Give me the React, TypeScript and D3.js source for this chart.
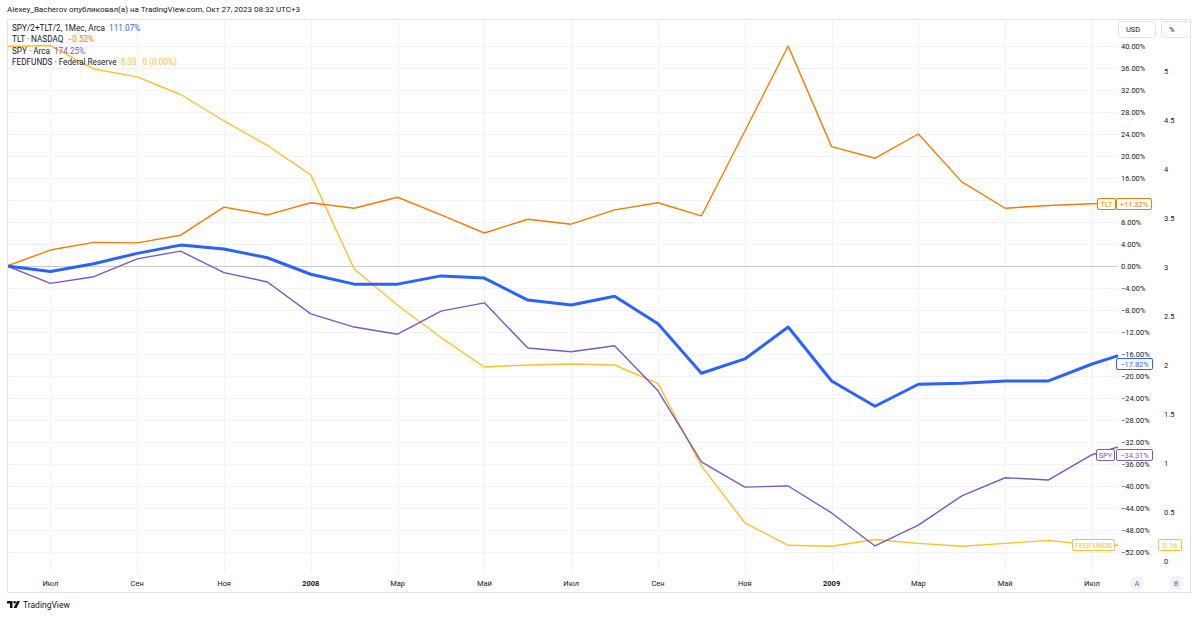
import React, { useEffect, useRef } from 'react';
import * as d3 from 'd3';

// monthly bars, Jun 2007 .. Aug 2009 (last one is cut by the price scale)
const months = [
  '2007-06', '2007-07', '2007-08', '2007-09', '2007-10', '2007-11', '2007-12',
  '2008-01', '2008-02', '2008-03', '2008-04', '2008-05', '2008-06', '2008-07',
  '2008-08', '2008-09', '2008-10', '2008-11', '2008-12', '2009-01', '2009-02',
  '2009-03', '2009-04', '2009-05', '2009-06', '2009-07', '2009-08',
];

// % change from the first bar
const basket = [
  0, -1.0, 0.4, 2.3, 3.8, 3.1, 1.5, -1.5, -3.3, -3.3, -1.8, -2.2, -6.2, -7.1,
  -5.5, -10.5, -19.5, -16.9, -11.1, -20.9, -25.5, -21.5, -21.3, -20.9, -20.9, -17.82, -15.3,
];
const tlt = [
  0, 2.9, 4.3, 4.2, 5.6, 10.7, 9.3, 11.5, 10.5, 12.5, 9.3, 6.0, 8.5, 7.6,
  10.2, 11.5, 9.1, 24.5, 40.0, 21.7, 19.6, 24.0, 15.3, 10.5, 11.0, 11.32, 11.5,
];
const spy = [
  0, -3.15, -1.95, 1.3, 2.7, -1.2, -2.9, -8.7, -11.1, -12.4, -8.2, -6.7, -14.9, -15.6,
  -14.5, -22.7, -35.6, -40.2, -40.0, -44.9, -50.9, -47.1, -41.8, -38.5, -38.9, -34.31, -32.0,
];
// effective fed funds rate, %
const fedfunds = [
  5.25, 5.26, 5.02, 4.94, 4.76, 4.49, 4.24, 3.94, 2.98, 2.61, 2.28, 1.98, 2.0, 2.01,
  2.0, 1.81, 0.97, 0.39, 0.16, 0.15, 0.22, 0.18, 0.15, 0.18, 0.21, 0.16, 0.16,
];

const pctTicks = [40, 36, 32, 28, 24, 20, 16, 12, 8, 4, 0, -4, -8, -12, -16, -20, -24, -28, -32, -36, -40, -44, -48, -52];
const rateTicks = [5, 4.5, 4, 3.5, 3, 2.5, 2, 1.5, 1, 0.5, 0];
const timeTickMonths = ['2007-07', '2007-09', '2007-11', '2008-01', '2008-03', '2008-05', '2008-07', '2008-09', '2008-11', '2009-01', '2009-03', '2009-05', '2009-07'];
const timeTickLabels = ['Июл', 'Сен', 'Ноя', '2008', 'Мар', 'Май', 'Июл', 'Сен', 'Ноя', '2009', 'Мар', 'Май', 'Июл'];

const lastIdx = 25; // Jul 2009, the last bar shown in the labels

const FONT = 'Roboto, "Noto Sans", sans-serif';
const TXT = '#131722';
const BLUE = '#2962ff';
const ORANGE = '#f57c00';
const PURPLE = '#7e57c2';
const YELLOW = '#fbc02d';

const fmtPct = (v: number, plus = false) =>
  (v < 0 ? '\u2212' : plus && v > 0 ? '+' : '') + Math.abs(v).toFixed(2) + '%';

const App: React.FC = () => {
  const svgRef = useRef<SVGSVGElement | null>(null);

  useEffect(() => {
    const svg = d3.select(svgRef.current);
    svg.selectAll('*').remove();

    const pane = { left: 7, right: 1118, top: 19, bottom: 573 };

    const x = d3.scalePoint<string>().domain(months).range([7, 7 + 43.4 * (months.length - 1)]);
    const y = d3.scaleLinear().domain([-52, 40]).range([552, 46]);
    const yRate = d3.scaleLinear().domain([0, 5]).range([561, 71]);

    svg.append('rect').attr('width', 1200).attr('height', 617).attr('fill', '#fff');

    const defs = svg.append('defs');
    defs.append('clipPath').attr('id', 'pane')
      .append('rect')
      .attr('x', pane.left).attr('y', pane.top)
      .attr('width', pane.right - pane.left).attr('height', pane.bottom - pane.top);

    // grid
    const grid = svg.append('g').attr('stroke', '#f0f3fa').attr('stroke-width', 1);
    grid.selectAll('line.h').data(pctTicks).join('line')
      .attr('x1', pane.left).attr('x2', pane.right)
      .attr('y1', (d) => Math.round(y(d)) + 0.5).attr('y2', (d) => Math.round(y(d)) + 0.5);
    grid.selectAll('line.v').data(timeTickMonths).join('line')
      .attr('y1', pane.top).attr('y2', pane.bottom)
      .attr('x1', (d) => Math.round(x(d)!) + 0.5).attr('x2', (d) => Math.round(x(d)!) + 0.5);

    // zero baseline
    svg.append('line')
      .attr('x1', pane.left).attr('x2', pane.right)
      .attr('y1', Math.round(y(0)) + 0.5).attr('y2', Math.round(y(0)) + 0.5)
      .attr('stroke', '#c8cbd3').attr('stroke-width', 1);

    const lines = svg.append('g').attr('clip-path', 'url(#pane)').attr('fill', 'none')
      .attr('stroke-linejoin', 'round');

    const pctLine = d3.line<number>().x((_, i) => x(months[i])!).y((d) => y(d));
    const rateLine = d3.line<number>().x((_, i) => x(months[i])!).y((d) => yRate(d));

    lines.append('path').datum(fedfunds).attr('d', rateLine).attr('stroke', YELLOW).attr('stroke-width', 1.4);
    lines.append('path').datum(spy).attr('d', pctLine).attr('stroke', PURPLE).attr('stroke-width', 1.4);
    lines.append('path').datum(tlt).attr('d', pctLine).attr('stroke', ORANGE).attr('stroke-width', 1.4);
    lines.append('path').datum(basket).attr('d', pctLine).attr('stroke', BLUE).attr('stroke-width', 3);

    // frame
    svg.append('rect')
      .attr('x', 7.5).attr('y', 19.5).attr('width', 1183).attr('height', 573)
      .attr('fill', 'none').attr('stroke', '#e0e3eb');

    // a tick that sits under a last-value box only shows its top part
    const tagRows = [y(tlt[lastIdx]), y(basket[lastIdx]), y(spy[lastIdx])];
    pctTicks.forEach((d, i) => {
      const hit = tagRows.find((r) => Math.abs(y(d) - r) <= 8);
      const t = svg.append('text')
        .attr('x', 1121).attr('y', y(d)).attr('dy', '0.35em')
        .attr('font-family', FONT).attr('font-size', 7.5).attr('fill', TXT)
        .text(fmtPct(d));
      if (hit !== undefined) {
        defs.append('clipPath').attr('id', `tick-${i}`)
          .append('rect').attr('x', 1110).attr('y', y(d) - 10)
          .attr('width', 60).attr('height', Math.round(hit) - 6 - (y(d) - 10));
        t.attr('clip-path', `url(#tick-${i})`);
      }
    });
    svg.append('g').selectAll('text').data(rateTicks).join('text')
      .attr('x', 1164).attr('y', (d) => yRate(d)).attr('dy', '0.35em')
      .attr('font-family', FONT).attr('font-size', 7.5).attr('fill', TXT)
      .text((d) => String(d));

    // time axis
    svg.append('g').selectAll('text').data(timeTickMonths).join('text')
      .attr('x', (d) => x(d)!).attr('y', 583).attr('dy', '0.35em')
      .attr('text-anchor', 'middle')
      .attr('font-family', FONT).attr('font-size', 7.5).attr('fill', TXT)
      .attr('font-weight', (_, i) => (timeTickLabels[i].length === 4 ? 'bold' : 'normal'))
      .text((_, i) => timeTickLabels[i]);

    // USD / % buttons
    const btn = (bx: number, w: number, label: string) => {
      svg.append('rect').attr('x', bx + 0.5).attr('y', 21.5).attr('width', w).attr('height', 16)
        .attr('rx', 3).attr('fill', '#fff').attr('stroke', '#e0e3eb');
      svg.append('text').attr('x', bx + 8).attr('y', 29.5).attr('dy', '0.35em')
        .attr('font-family', FONT).attr('font-size', 7.5).attr('fill', TXT).text(label);
    };
    btn(1118, 37, 'USD');
    btn(1161, 29, '%');

    // A / B circles
    [['A', 1137], ['B', 1176]].forEach(([t, cx]) => {
      svg.append('circle').attr('cx', cx as number).attr('cy', 583).attr('r', 7).attr('fill', '#f0f3fa');
      svg.append('text').attr('x', cx as number).attr('y', 583).attr('dy', '0.35em')
        .attr('text-anchor', 'middle').attr('font-family', FONT).attr('font-size', 7.5)
        .attr('fill', '#6a6d78').text(t as string);
    });

    // last-value labels
    const tag = (bx: number, w: number, cy: number, color: string, label: string) => {
      svg.append('rect').attr('x', bx + 0.5).attr('y', Math.round(cy) - 5.5).attr('width', w).attr('height', 11)
        .attr('rx', 1.5).attr('fill', '#fff').attr('stroke', color);
      svg.append('text').attr('x', bx + w / 2 + 0.5).attr('y', Math.round(cy)).attr('dy', '0.35em')
        .attr('text-anchor', 'middle').attr('font-family', FONT).attr('font-size', 7.5)
        .attr('fill', color).text(label);
    };
    tag(1097, 18, y(tlt[lastIdx]), ORANGE, 'TLT');
    tag(1116, 35, y(tlt[lastIdx]), ORANGE, fmtPct(tlt[lastIdx], true));
    tag(1116, 36, y(basket[lastIdx]), BLUE, fmtPct(basket[lastIdx]));
    tag(1096, 18, y(spy[lastIdx]), PURPLE, 'SPY');
    tag(1116, 36, y(spy[lastIdx]), PURPLE, fmtPct(spy[lastIdx]));
    tag(1072, 42, yRate(fedfunds[lastIdx]), YELLOW, 'FEDFUNDS');
    tag(1158, 23, yRate(fedfunds[lastIdx]), YELLOW, fedfunds[lastIdx].toFixed(2));

    // legend
    const legend = [
      { name: 'SPY/2+TLT/2, 1Мес, Arca', values: ['111.07%'], color: BLUE },
      { name: 'TLT · NASDAQ', values: ['\u22120.52%'], color: ORANGE },
      { name: 'SPY · Arca', values: ['174.25%'], color: PURPLE },
      { name: 'FEDFUNDS · Federal Reserve', values: ['5.33', '0 (0.00%)'], color: YELLOW },
    ];
    const lg = svg.append('g').attr('font-family', FONT).attr('font-size', 8.2);
    legend.forEach((l, i) => {
      const t = lg.append('text').attr('x', 12).attr('y', 28.3 + i * 11.3).attr('dy', '0.35em');
      t.append('tspan').attr('fill', TXT).text(l.name);
      l.values.forEach((v, j) => {
        t.append('tspan').attr('dx', j === 0 ? 4 : 6).attr('fill', l.color).text(v);
      });
    });

    // header + logo
    svg.append('text').attr('x', 7).attr('y', 9).attr('dy', '0.35em')
      .attr('font-family', FONT).attr('font-size', 8).attr('fill', TXT)
      .text('Alexey_Bacherov опубликовал(а) на TradingView.com, Окт 27, 2023 08:32 UTC+3');

    const logo = svg.append('g').attr('transform', 'translate(7,601)').attr('fill', TXT);
    logo.append('path').attr('d', 'M0 0H5.5V7H3V2.4H0Z');
    logo.append('circle').attr('cx', 7.6).attr('cy', 1.3).attr('r', 1.3);
    logo.append('path').attr('d', 'M10 0H13L9.6 7H6.6Z');
    svg.append('text').attr('x', 23).attr('y', 605).attr('dy', '0.35em')
      .attr('font-family', FONT).attr('font-size', 8.5).attr('fill', TXT).text('TradingView');
  }, []);

  return (
    <svg ref={svgRef} width={1200} height={617}
      style={{ position: 'absolute', left: 0, top: 0, display: 'block' }} />
  );
};

export default App;
